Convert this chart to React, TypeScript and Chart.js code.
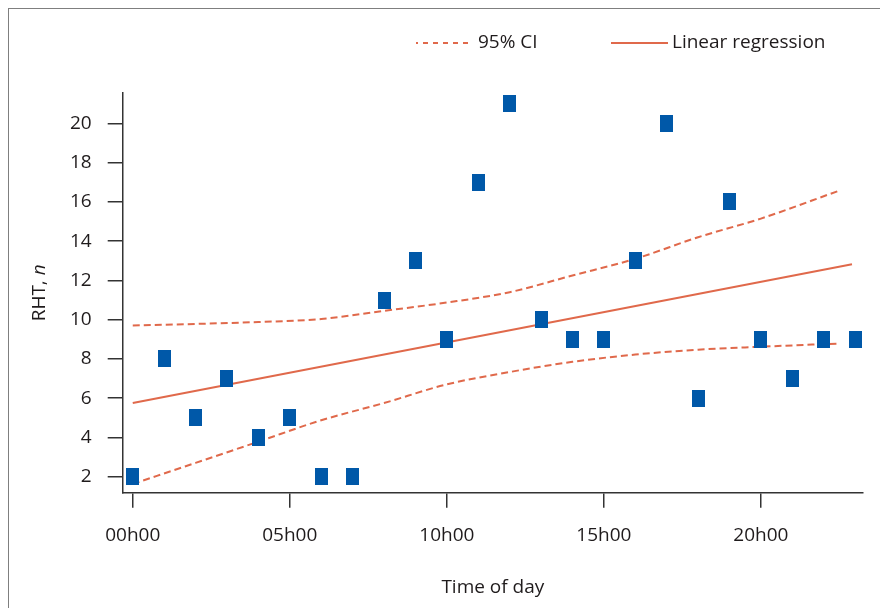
import { useEffect, useRef } from 'react';
import { Chart, registerables } from 'chart.js';

Chart.register(...registerables);

// observed counts per hour
const hourOfDay = [0, 1, 2, 3, 4, 5, 6, 7, 8, 9, 10, 11, 12, 13, 14, 15, 16, 17, 18, 19, 20, 21, 22, 23];
const rhtCounts = [2, 8, 5, 7, 4, 5, 2, 2, 11, 13, 9, 17, 21, 10, 9, 9, 13, 20, 6, 16, 9, 7, 9, 9];

// fitted line and confidence band
const regressionX = [0, 22.9];
const regressionY = [5.75, 12.82];
const ciX = [0, 2, 4, 6, 8, 10, 12, 14, 16, 18, 20, 22.45];
const ciUpper = [9.7, 9.78, 9.88, 10.03, 10.45, 10.87, 11.4, 12.25, 13.1, 14.2, 15.15, 16.55];
const ciLower = [1.62, 2.7, 3.78, 4.87, 5.75, 6.7, 7.33, 7.85, 8.22, 8.47, 8.62, 8.78];

const xTickValues = [0, 5, 10, 15, 20];
const xTickLabels = ['00h00', '05h00', '10h00', '15h00', '20h00'];
const yTickValues = [2, 4, 6, 8, 10, 12, 14, 16, 18, 20];

const FONT = '"Open Sans", sans-serif';
const SIZE = 19;
const TEXT = '#1f1b1c';
const AXIS = '#333333';
const LINE = '#E0694B';
const MARKER = '#0058A8';

function markerImage() {
  const c = document.createElement('canvas');
  c.width = 13;
  c.height = 17;
  const g = c.getContext('2d');
  if (g) {
    g.fillStyle = MARKER;
    g.fillRect(0, 0, 13, 17);
  }
  return c;
}

const extrasPlugin = {
  id: 'extras',
  afterDraw(chart: Chart) {
    const { ctx, chartArea } = chart;
    ctx.save();

    // legend
    ctx.strokeStyle = LINE;
    ctx.lineWidth = 2;
    ctx.setLineDash([5, 5]);
    ctx.lineDashOffset = 3;
    ctx.beginPath();
    ctx.moveTo(416, 43);
    ctx.lineTo(473, 43);
    ctx.stroke();
    ctx.setLineDash([]);
    ctx.beginPath();
    ctx.moveTo(611, 43);
    ctx.lineTo(668, 43);
    ctx.stroke();

    ctx.fillStyle = TEXT;
    ctx.font = `${SIZE}px ${FONT}`;
    ctx.textBaseline = 'middle';
    ctx.textAlign = 'left';
    ctx.fillText('95% CI', 478, 43);
    ctx.fillText('Linear regression', 672, 43);

    // y axis title with italic n
    const a = 'RHT, ';
    const b = 'n';
    ctx.font = `${SIZE}px ${FONT}`;
    const wa = ctx.measureText(a).width;
    ctx.font = `italic ${SIZE}px ${FONT}`;
    const wb = ctx.measureText(b).width;
    ctx.translate(40, (chartArea.top + chartArea.bottom) / 2);
    ctx.rotate(-Math.PI / 2);
    const start = -(wa + wb) / 2;
    ctx.font = `${SIZE}px ${FONT}`;
    ctx.fillText(a, start, 0);
    ctx.font = `italic ${SIZE}px ${FONT}`;
    ctx.fillText(b, start + wa, 0);

    ctx.restore();
  },
};

export default function App() {
  const canvasRef = useRef<HTMLCanvasElement>(null);
  const chartRef = useRef<Chart | null>(null);

  useEffect(() => {
    if (!canvasRef.current) return;
    if (chartRef.current) chartRef.current.destroy();

    const ctx = canvasRef.current.getContext('2d');
    if (!ctx) return;

    const marker = markerImage();

    chartRef.current = new Chart(ctx, {
      type: 'scatter',
      data: {
        datasets: [
          {
            label: 'RHT',
            data: hourOfDay.map((h, i) => ({ x: h, y: rhtCounts[i] })),
            pointStyle: marker as any,
            pointRadius: 8,
            backgroundColor: MARKER,
            borderWidth: 0,
            order: 0,
          },
          {
            type: 'line',
            label: 'Linear regression',
            data: regressionX.map((x, i) => ({ x, y: regressionY[i] })),
            borderColor: LINE,
            borderWidth: 2,
            pointRadius: 0,
            showLine: true,
            fill: false,
            order: 1,
          },
          {
            type: 'line',
            label: '95% CI',
            data: ciX.map((x, i) => ({ x, y: ciUpper[i] })),
            borderColor: LINE,
            borderWidth: 2,
            borderDash: [7, 4],
            pointRadius: 0,
            tension: 0.4,
            cubicInterpolationMode: 'monotone',
            showLine: true,
            fill: false,
            order: 1,
          },
          {
            type: 'line',
            label: '95% CI lower',
            data: ciX.map((x, i) => ({ x, y: ciLower[i] })),
            borderColor: LINE,
            borderWidth: 2,
            borderDash: [7, 4],
            pointRadius: 0,
            tension: 0.4,
            cubicInterpolationMode: 'monotone',
            showLine: true,
            fill: false,
            order: 1,
          },
        ],
      },
      options: {
        responsive: true,
        maintainAspectRatio: false,
        animation: false,
        layout: {
          padding: { left: 29, top: 93, right: 17, bottom: 8.6 },
        },
        plugins: {
          legend: { display: false },
          tooltip: { enabled: false },
        },
        scales: {
          x: {
            type: 'linear',
            min: -0.32,
            max: 23.25,
            afterBuildTicks: (s: any) => {
              s.ticks = xTickValues.map(value => ({ value }));
            },
            afterFit: (s: any) => {
              s.height = 106.7;
            },
            ticks: {
              autoSkip: false,
              maxRotation: 0,
              padding: 16,
              color: TEXT,
              font: { family: FONT, size: SIZE },
              callback: (val: any) => xTickLabels[xTickValues.indexOf(Number(val))],
            },
            grid: {
              drawOnChartArea: false,
              drawTicks: true,
              tickLength: 15,
              color: AXIS,
              lineWidth: 1.5,
            },
            border: { display: true, color: AXIS, width: 1.5 },
            title: {
              display: true,
              text: 'Time of day',
              color: TEXT,
              font: { family: FONT, size: SIZE },
              padding: 0,
            },
          },
          y: {
            type: 'linear',
            min: 1.18,
            max: 21.55,
            afterBuildTicks: (s: any) => {
              s.ticks = yTickValues.map(value => ({ value }));
            },
            afterFit: (s: any) => {
              s.width = 93.7;
            },
            ticks: {
              padding: 16,
              color: TEXT,
              font: { family: FONT, size: SIZE },
            },
            grid: {
              drawOnChartArea: false,
              drawTicks: true,
              tickLength: 15,
              color: AXIS,
              lineWidth: 1.5,
            },
            border: { display: true, color: AXIS, width: 1.5 },
          },
        },
      },
      plugins: [extrasPlugin],
    });

    return () => {
      chartRef.current?.destroy();
      chartRef.current = null;
    };
  }, []);

  return (
    <>
      <div
        style={{
          position: 'fixed',
          left: 8,
          top: 8,
          right: -20,
          bottom: -20,
          borderLeft: '1.5px solid #7f7f7f',
          borderTop: '1.5px solid #7f7f7f',
        }}
      />
      <div style={{ position: 'fixed', left: 0, top: 0, width: 880, height: 608 }}>
        <canvas ref={canvasRef} />
      </div>
    </>
  );
}
